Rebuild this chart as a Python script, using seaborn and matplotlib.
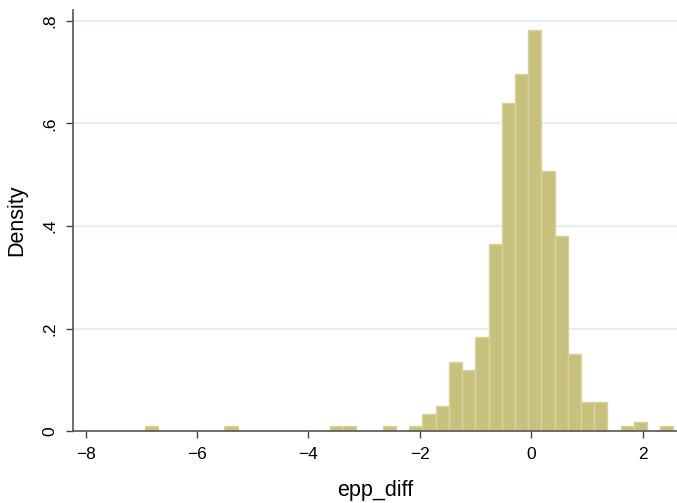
import numpy as np
import pandas as pd
import seaborn as sns
import matplotlib
matplotlib.use("Agg")
import matplotlib.pyplot as plt

# ---- data ----
bin_start = -6.935
bin_width = 0.2372
n_bins = 40
# density per bin (index -> height)
bin_index = [0, 6, 14, 15, 18, 20, 21, 22, 23, 24, 25, 26, 27, 28, 29, 30, 31, 32, 33, 34, 36, 37, 39]
density = [0.0105, 0.0105, 0.0105, 0.0105, 0.0105, 0.0105, 0.0337, 0.0493, 0.135, 0.1194,
           0.183, 0.365, 0.6396, 0.696, 0.7818, 0.507, 0.3805, 0.1506, 0.057, 0.057,
           0.0105, 0.018, 0.0105]
yticks = [0, 0.2, 0.4, 0.6, 0.8]
ytick_labels = ["0", ".2", ".4", ".6", ".8"]
xticks = [-8, -6, -4, -2, 0, 2]
xtick_labels = ["\u22128", "\u22126", "\u22124", "\u22122", "0", "2"]

bin_end = bin_start + bin_width * n_bins
centers = bin_start + bin_width * (np.array(bin_index) + 0.5)
df = pd.DataFrame({"epp_diff": centers, "w": density})

sns.set_style("white")
plt.rcParams["font.family"] = ["Liberation Sans", "DejaVu Sans"]
plt.rcParams["text.color"] = "black"
plt.rcParams["axes.labelcolor"] = "black"
plt.rcParams["xtick.labelcolor"] = "black"
plt.rcParams["ytick.labelcolor"] = "black"

fig = plt.figure(figsize=(6.77, 5.03), dpi=100)
ax = fig.add_axes([73 / 677, 1 - 431.3 / 503, 604 / 677, 421.3 / 503])

for y in yticks[1:]:
    ax.axhline(y, color="#E6EFF2", lw=1.6, zorder=0)

sns.histplot(data=df, x="epp_diff", weights="w", binwidth=bin_width,
             binrange=(bin_start, bin_end), stat="count",
             color="#C8C17E", edgecolor="#D8D39E", linewidth=1.0, alpha=1.0, ax=ax, zorder=2)

ax.set_xlim(-8.228, 2.616)
ax.set_ylim(0, 0.8208)
ax.set_xticks(xticks)
ax.set_xticklabels(xtick_labels, fontsize=12.5)
ax.set_yticks(yticks)
ax.set_yticklabels(ytick_labels, fontsize=12.5, rotation=90, va="center")
ax.tick_params(axis="both", direction="out", length=5, width=1, color="#444444", pad=6, bottom=True, left=True)
ax.set_xlabel("epp_diff", fontsize=15.5, labelpad=13)
ax.set_ylabel("Density", fontsize=15.5, labelpad=11)

for s in ["top", "right"]:
    ax.spines[s].set_visible(False)
for s in ["left", "bottom"]:
    ax.spines[s].set_color("#555555")
    ax.spines[s].set_linewidth(1.2)

fig.savefig("out.png", dpi=100, facecolor="white")
